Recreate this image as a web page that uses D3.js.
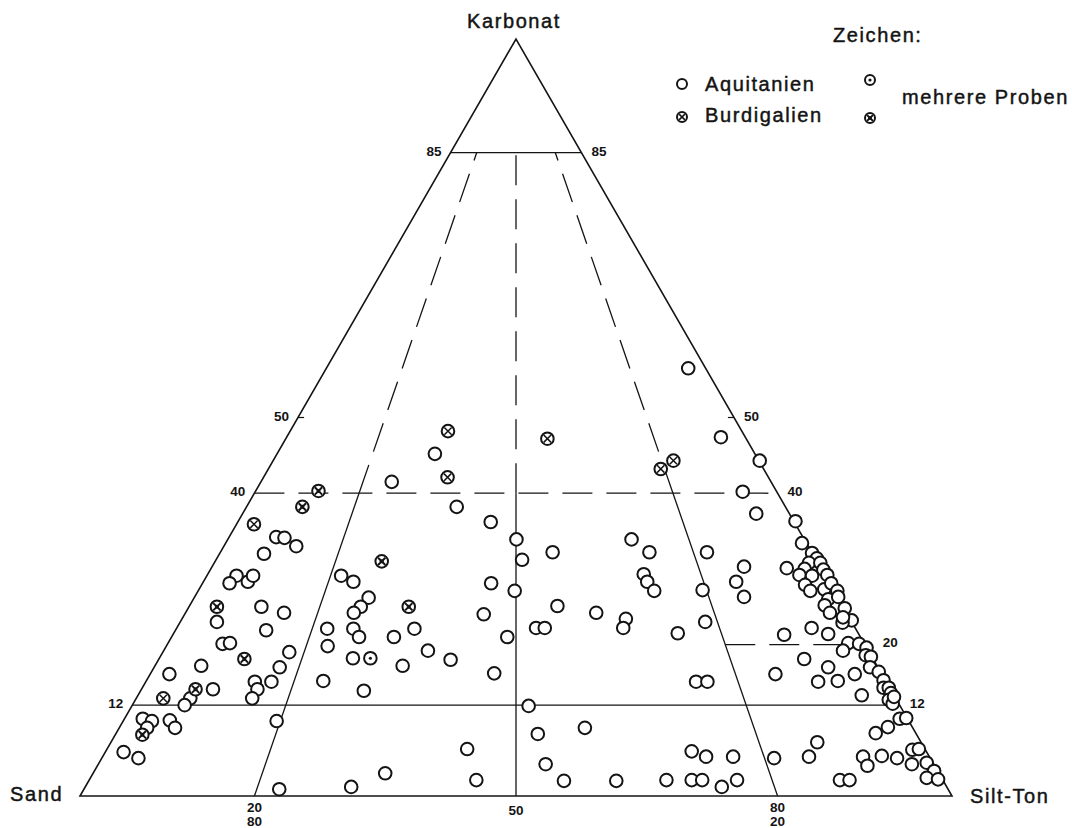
<!DOCTYPE html>
<html lang="de">
<head>
<meta charset="utf-8">
<title>Karbonat - Sand - Silt-Ton</title>
<script src="https://d3js.org/d3.v7.min.js"></script>
<style>
  body { margin: 0; background: #fff; }
  text { font-family: "Liberation Sans", Arial, sans-serif; fill: #141414; }
  .lbl { font-size: 20px; letter-spacing: 1.6px; stroke: #141414; stroke-width: 0.45px; }
  .num { font-size: 13.5px; font-weight: bold; }
</style>
</head>
<body>
<div id="chart"></div>
<script>
// Werte: [Karbonat %, Silt-Ton %]  (Sand = Rest)
const aquitanien = [
  [56.5,41.5],[47.4,49.8],[44.3,55.8],[40.2,55.9],[37.3,58.9],[36.3,63.9],[33.4,66.1],[45.2,18.1],[41.5,15.0],[38.2,24.1],
  [36.2,29.0],[33.9,33.1],[31.2,35.1],[32.2,38.1],[33.9,46.3],[32.2,49.2],[29.3,50.0],[28.3,50.9],[27.1,52.3],[28.1,33.1],
  [27.1,36.3],[24.0,34.3],[25.1,42.2],[24.2,47.1],[23.4,50.9],[22.2,51.2],[21.0,38.5],[22.2,41.2],[22.2,42.2],[21.5,57.8],
  [27.2,57.8],[32.2,55.8],[23.0,60.2],[30.3,61.0],[28.3,61.1],[26.3,63.0],[16.2,39.4],[15.1,63.1],[15.1,64.4],[16.1,71.7],
  [11.9,45.5],
  [29.1,15.4],[28.3,17.2],[26.2,20.0],[25.0,19.7],[24.2,19.3],[22.1,17.3],[19.8,18.5],[22.1,20.3],[21.0,21.5],[21.0,25.5],
  [22.1,27.3],[19.2,30.3],[18.0,33.5],[18.2,22.2],[17.2,28.4],[15.2,20.3],[13.9,25.6],
  [34.2,5.4],[34.1,6.4],[33.0,8.3],[32.0,5.1],[29.1,3.4],[28.1,3.1],[28.3,5.1],[29.1,5.3],[23.0,4.2],[25.0,8.3],
  [24.2,11.3],[21.9,10.4],[20.1,6.3],[20.2,7.1],[19.0,14.5],[17.0,14.4],[17.2,5.3],[16.1,2.2],[14.1,8.2],[12.9,6.2],
  [12.0,6.0],[15.1,12.5],[15.1,14.4],[14.1,13.3],[12.9,13.3],[10.2,2.1],[9.9,3.3],[9.0,3.2],[10.0,5.3],[9.0,6.4],
  [5.8,2.1],[5.0,4.2],[9.9,17.6],[0.9,22.4],
  [9.0,53.4],[8.2,48.4],[4.2,51.3],[2.0,54.5],[2.0,60.5],[2.1,66.2],[5.9,67.2],[5.2,69.2],[5.2,72.3],[2.1,69.1],
  [2.1,70.3],[1.2,73.0],[2.1,74.3],[5.0,77.1],[5.2,81.0],[7.1,81.0],[6.2,41.3],[2.1,44.4],[3.0,33.5],[1.2,30.5],
  [32.1,67.9],[31.4,68.8],[30.8,68.2],[30.8,69.5],[30.1,66.0],[30.0,68.1],[29.9,70.3],[29.2,67.9],[29.1,69.4],[29.2,71.1],
  [27.9,69.2],[27.1,70.2],[27.3,71.7],[28.1,72.1],[27.1,73.3],[26.0,72.8],[26.3,73.8],[25.2,72.8],[24.2,73.9],[24.8,75.3],
  [23.2,76.9],[22.9,76.0],[23.6,75.7],[22.2,72.8],[21.3,70.1],[21.4,75.1],[20.2,78.0],[20.1,79.3],[19.2,77.9],[19.6,80.4],
  [18.6,80.8],[18.4,81.5],[17.0,82.1],[18.1,74.0],[17.0,77.3],[15.1,77.1],[15.2,79.3],[16.1,80.8],[16.4,83.4],[15.3,84.5],
  [14.3,85.0],[14.3,85.6],[13.6,86.2],[12.7,86.4],[12.2,87.1],[13.1,86.8],[13.3,83.0],[10.2,88.9],[10.3,89.6],[9.1,88.1],
  [8.3,87.1],[5.2,87.2],[4.0,88.3],[5.3,89.3],[5.0,91.2],[6.1,92.4],[6.2,93.1],[4.2,93.3],[4.4,94.9],[3.3,96.3],
  [2.4,95.9],[2.2,97.3],[2.1,86.1],[2.1,87.2]
];
const aquitanienMehrere = [[18.2,24.2]];
const burdigalien = [[48.2,18.1],[42.1,21.1],[47.2,30.0],[43.2,45.0],[44.3,45.9],[35.9,2.0],[12.9,3.1]];
const burdigalienMehrere = [[40.3,7.2],[38.2,6.4],[31.0,19.1],[25.0,25.2],[25.0,3.2],[18.1,9.8],[14.1,6.2],[8.1,3.1]];

const karbonatLines = [85, 40, 12];        // waagrechte Grenzen
const ratioLines = [20, 50, 80];           // Silt-Ton Anteil ohne Karbonat
const edgeLabels = [85, 50, 40, 12];
const cornerNames = ["Karbonat", "Sand", "Silt-Ton"];
const legendNames = ["Aquitanien", "Burdigalien", "mehrere Proben"];

const width = 1072;
const height = 828;
const r = 6.3;

const svg = d3.select("#chart")
  .append("svg")
  .attr("width", width)
  .attr("height", height);

const xScale = d3.scaleLinear().domain([0, 100]).range([80, 952]);
const yScale = d3.scaleLinear().domain([0, 100]).range([796, 39]);

// karbonat k, silt s -> pixel
function pt(k, s) { return [xScale(s + k / 2), yScale(k)]; }

const line = d3.line();
const grid = svg.append("g").attr("fill", "none").attr("stroke", "#141414");

function seg(a, b, dashed, w) {
  grid.append("path")
    .attr("d", line([a, b]))
    .attr("stroke-width", w || 1.3)
    .attr("stroke-dasharray", dashed ? "30,14" : null);
}

// Dreieck
grid.append("path")
  .attr("d", line([pt(0, 0), pt(100, 0), pt(0, 100)]) + "Z")
  .attr("stroke-width", 1.6)
  .attr("stroke-linejoin", "miter");

// waagrechte Linien
seg(pt(karbonatLines[0], 0), pt(karbonatLines[0], 100 - karbonatLines[0]), false);
seg(pt(karbonatLines[1], 0), pt(karbonatLines[1], 100 - karbonatLines[1]), true);
seg(pt(karbonatLines[2], 0), pt(karbonatLines[2], 100 - karbonatLines[2]), false);
seg(pt(20, 0.8 * 80), pt(20, 80), true);

// Verhältnislinien zur Spitze
ratioLines.forEach(function(p) {
  const f = p / 100;
  seg(pt(0, f * 100), pt(40, f * 60), false);
  seg(pt(40, f * 60), pt(85, f * 15), true);
});

// kleine Striche bei 50
seg(pt(50, 0), pt(50, 0.7), false, 1.2);
seg(pt(50, 50), pt(50, 49.3), false, 1.2);

// Randbeschriftung
const nums = svg.append("g").attr("class", "num");
edgeLabels.forEach(function(k) {
  const left = pt(k, 0);
  const right = pt(k, 100 - k);
  nums.append("text").attr("x", left[0] - 9).attr("y", left[1] + 3)
    .attr("text-anchor", "end").text(k);
  nums.append("text").attr("x", right[0] + 10).attr("y", right[1] + 3)
    .attr("text-anchor", "start").text(k);
});
const p20 = pt(20, 80);
nums.append("text").attr("x", p20[0] + 18).attr("y", p20[1] + 2).text(20);

ratioLines.forEach(function(p) {
  const b = pt(0, p);
  if (p === 50) {
    nums.append("text").attr("x", b[0]).attr("y", b[1] + 19).attr("text-anchor", "middle").text(p);
  } else {
    nums.append("text").attr("x", b[0]).attr("y", b[1] + 16).attr("text-anchor", "middle").text(p);
    nums.append("text").attr("x", b[0]).attr("y", b[1] + 30).attr("text-anchor", "middle").text(100 - p);
  }
});

// Eckbeschriftung
svg.append("text").attr("class", "lbl").attr("x", 514).attr("y", 28)
  .attr("text-anchor", "middle").text(cornerNames[0]);
svg.append("text").attr("class", "lbl").attr("x", 10).attr("y", 801).text(cornerNames[1]);
svg.append("text").attr("class", "lbl").attr("x", 970).attr("y", 803).text(cornerNames[2]);

// Zeichen
function symbol(g, type, rad) {
  g.append("circle").attr("r", rad).attr("fill", "#fff")
    .attr("stroke", "#141414").attr("stroke-width", 2);
  if (type === "b" || type === "bm") {
    const c = rad * 0.58;
    g.append("path").attr("d", `M${-c},${-c}L${c},${c}M${-c},${c}L${c},${-c}`)
      .attr("stroke", "#141414").attr("stroke-width", type === "bm" ? 2 : 1.5);
  }
  if (type === "am" || type === "bm") {
    g.append("circle").attr("r", type === "bm" ? 2 : 1.6).attr("fill", "#141414");
  }
}

const series = [
  { data: aquitanien, type: "a" },
  { data: aquitanienMehrere, type: "am" },
  { data: burdigalien, type: "b" },
  { data: burdigalienMehrere, type: "bm" }
];

series.forEach(function(s) {
  svg.append("g").selectAll("g")
    .data(s.data)
    .enter()
    .append("g")
    .attr("transform", d => "translate(" + pt(d[0], d[1]) + ")")
    .each(function() { symbol(d3.select(this), s.type, r); });
});

// Legende
svg.append("text").attr("class", "lbl").attr("x", 833).attr("y", 42).text("Zeichen:");
symbol(svg.append("g").attr("transform", "translate(682,84)"), "a", 5);
symbol(svg.append("g").attr("transform", "translate(682,117)"), "b", 5);
symbol(svg.append("g").attr("transform", "translate(870,80)"), "am", 5);
symbol(svg.append("g").attr("transform", "translate(870,118)"), "bm", 5);
svg.append("text").attr("class", "lbl").attr("x", 705).attr("y", 91).text(legendNames[0]);
svg.append("text").attr("class", "lbl").attr("x", 705).attr("y", 122).text(legendNames[1]);
svg.append("text").attr("class", "lbl").attr("x", 902).attr("y", 104).text(legendNames[2]);
</script>
</body>
</html>
